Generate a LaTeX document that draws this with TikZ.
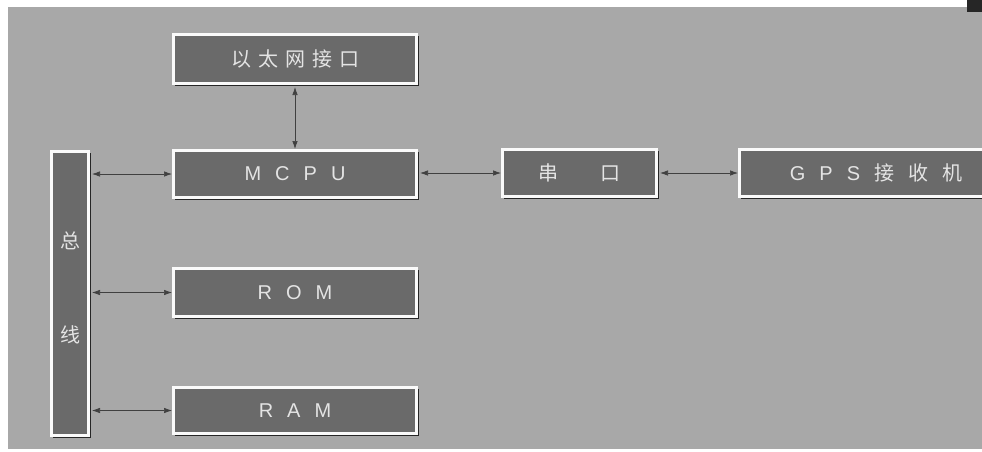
\documentclass[tikz,border=0pt]{standalone}
\usepackage{fontspec}
\setmainfont{Liberation Sans}
\newfontfamily\cjk{Noto Sans CJK SC}
\usetikzlibrary{shadows,arrows.meta}
\definecolor{bgc}{HTML}{A8A8A8}
\definecolor{boxfill}{HTML}{6A6A6A}
\definecolor{txt}{HTML}{E4E4E4}
\newcommand{\gp}{\hspace{14pt}}
\begin{document}
\begin{tikzpicture}[x=1pt,y=-1pt,
  blk/.style={fill=boxfill, draw=white!96!gray, line width=2.6pt, inner sep=0pt,
    text=txt, font=\fontsize{20}{20}\selectfont,
    drop shadow={shadow xshift=2pt, shadow yshift=-2pt, fill=black!85, opacity=1}},
  lbl/.style={text=txt, inner sep=0pt, font=\cjk\fontsize{20}{20}\selectfont},
  arr/.style={draw=black!75, line width=0.7pt,
    {Latex[length=8pt,width=5.5pt]}-{Latex[length=8pt,width=5.5pt]}}
]
\useasboundingbox (0,0) rectangle (982,451);
\fill[white] (0,0) rectangle (982,451);
\begin{scope}
\clip (8,7) rectangle (982,449);
\fill[bgc] (8,7) rectangle (982,449);

\node[blk, minimum width=243.4pt, minimum height=49.4pt] (eth) at (295,59)
  {\cjk 以\hspace{7pt}太\hspace{7pt}网\hspace{7pt}接\hspace{7pt}口};
\node[blk, minimum width=243.4pt, minimum height=47.4pt] (mcpu) at (295,174)
  {M\gp C\gp P\gp U};
\node[blk, minimum width=243.4pt, minimum height=48.4pt] (rom) at (295,292.5)
  {R\gp O\gp M};
\node[blk, minimum width=243.4pt, minimum height=46.4pt] (ram) at (295,410.5)
  {R\gp A\gp M};
\node[blk, minimum width=154.4pt, minimum height=47.4pt] (serial) at (579.5,173)
  {\cjk 串\hspace{42pt}口};
\node[blk, minimum width=273.4pt, minimum height=47.4pt] (gps) at (876,173)
  {G\gp P\gp S\gp{\cjk 接}\gp{\cjk 收}\gp{\cjk 机}};
\node[blk, minimum width=37.4pt, minimum height=284.4pt] (bus) at (70,293.5) {};
\node[lbl] (b1) at (70,241) {总};
\node[lbl] (b2) at (70,335) {线};

\draw[arr, shorten <=2pt] (bus.east |- mcpu.west) -- (mcpu.west);
\draw[arr, shorten <=2pt] (bus.east |- rom.west) -- (rom.west);
\draw[arr, shorten <=2pt] (bus.east |- ram.west) -- (ram.west);
\draw[arr, shorten <=2pt] (eth.south) -- (mcpu.north);
\draw[arr, shorten <=2pt] (mcpu.east |- serial.west) -- (serial.west);
\draw[arr, shorten <=2pt] (serial.east) -- (gps.west);
\end{scope}
\fill[black!85] (967,0) rectangle (982,12);
\end{tikzpicture}
\end{document}
